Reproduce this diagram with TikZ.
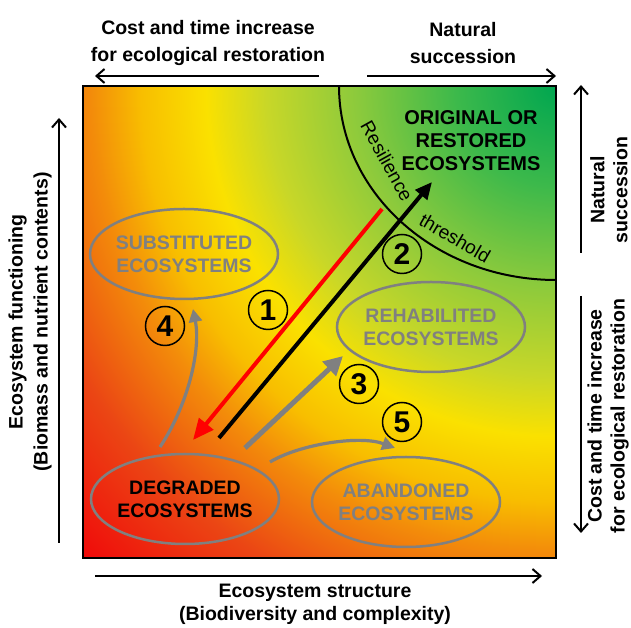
\documentclass[tikz,border=0pt]{standalone}
\usepackage{fontspec}
\setmainfont{Liberation Sans}
\usetikzlibrary{arrows.meta,shapes.geometric,positioning}

\definecolor{ecogray}{RGB}{128,128,128}
\definecolor{gA}{RGB}{0,166,80}
\definecolor{gB}{RGB}{60,185,75}
\definecolor{gC}{RGB}{140,202,60}
\definecolor{gD}{RGB}{200,215,40}
\definecolor{gE}{RGB}{250,225,0}
\definecolor{gF}{RGB}{248,190,0}
\definecolor{gG}{RGB}{243,140,10}
\definecolor{gH}{RGB}{235,70,20}
\definecolor{gI}{RGB}{240,10,10}
\pgfdeclareradialshading{ecofield}{\pgfpoint{0bp}{0bp}}{color(0bp)=(gA); color(3.74bp)=(gB); color(7.49bp)=(gC); color(10.85bp)=(gD); color(13.1bp)=(gE); color(15.53bp)=(gF); color(17.4bp)=(gG); color(20.77bp)=(gH); color(25bp)=(gI); color(50bp)=(gI)}

\tikzset{
  eco/.style={ellipse,draw=ecogray,line width=2.5pt,inner sep=0pt,inner xsep=-4pt,
    minimum width=188pt,minimum height=90pt,align=center,text=ecogray,
    font=\bfseries\fontsize{19.5}{23}\selectfont},
  num/.style={circle,draw,line width=1.5pt,minimum size=39pt,inner sep=0pt,
    font=\bfseries\fontsize{30}{30}\selectfont},
  axis/.style={line width=2pt,-{Straight Barb[length=8pt,width=14pt]}},
  lab/.style={align=center,font=\bfseries\fontsize{19.5}{23}\selectfont},
  arc label/.style={font=\fontsize{19}{23}\selectfont}
}

\begin{document}
\begin{tikzpicture}[x=1pt,y=1pt]
\useasboundingbox (0,0) rectangle (631,628);

% coloured field, green in the upper right corner
\begin{scope}
\clip (83,70) rectangle (556,542);
\shade[shading=ecofield] (-112,-126) rectangle (1224,1210);
\end{scope}
\draw[line width=2pt] (83,70) rectangle (556,542);

% resilience threshold
\draw[line width=2pt] (339,542) arc[start angle=180,end angle=270,x radius=217,y radius=194];
\node[arc label,rotate=-61] (res) at (387,467) {Resilience};
\node[arc label,rotate=-30] (thr) at (455,390) {threshold};

\node[font=\bfseries\fontsize{20}{23}\selectfont,align=center] (orig) at (471,487) {ORIGINAL OR\\RESTORED\\ECOSYSTEMS};

\node[eco] (sub) at (184,374) {SUBSTITUTED\\ECOSYSTEMS};
\node[eco] (reh) at (431,301) {REHABILITED\\ECOSYSTEMS};
\node[eco,text=black] (deg) at (185,129) {DEGRADED\\ECOSYSTEMS};
\node[eco] (aba) at (406,126) {ABANDONED\\ECOSYSTEMS};

\foreach \n/\x/\y in {1/268/318, 2/402/374, 3/359/244, 4/165/302, 5/402/206}
  \node[num] (n\n) at (\x,\y) {\n};

% trajectories
\coordinate (redA) at (382,419);
\coordinate (redB) at (193,188);
\coordinate (blkA) at (219,190);
\coordinate (blkB) at (432,446);
\coordinate (rehA) at (245,180);
\coordinate (rehB) at (343,272);
\coordinate (subA) at (160,181);
\coordinate (subB) at (193,319);
\coordinate (abaA) at (270,166);
\coordinate (abaB) at (395,180);

\draw[red,line width=4pt,-{Triangle[length=21pt,width=18pt]}] (redA) -- (redB);
\draw[black,line width=4pt,-{Triangle[length=17pt,width=15pt]}] (blkA) -- (blkB);
\draw[ecogray,line width=5pt,-{Triangle[length=19pt,width=19pt]}] (rehA) -- (rehB);
\draw[ecogray,line width=3.2pt,-{Triangle[length=13pt,width=13pt]}] (subA) .. controls (188,223) and (201,278) .. (subB);
\draw[ecogray,line width=3.2pt,-{Triangle[length=13pt,width=13pt]}] (abaA) .. controls (300,184) and (360,193) .. (abaB);

% axes
\coordinate (tl1) at (319,552);
\coordinate (tl2) at (95,552);
\coordinate (tr1) at (367,552);
\coordinate (tr2) at (556,552);
\coordinate (bx1) at (95,52);
\coordinate (bx2) at (542,52);
\coordinate (ly1) at (59,85);
\coordinate (ly2) at (59,510);
\coordinate (ru1) at (581,375);
\coordinate (ru2) at (581,543);
\coordinate (rl1) at (581,332);
\coordinate (rl2) at (581,95);
\draw[axis] (tl1) -- (tl2);
\draw[axis] (tr1) -- (tr2);
\draw[axis] (bx1) -- (bx2);
\draw[axis] (ly1) -- (ly2);
\draw[axis] (ru1) -- (ru2);
\draw[axis] (rl1) -- (rl2);

\node[lab,font=\bfseries\fontsize{19.5}{27}\selectfont] (costT) at (208,585) {Cost and time increase\\for ecological restoration};
\node[lab,font=\bfseries\fontsize{19.5}{27}\selectfont] (natT) at (463,585) {Natural\\succession};
\node[lab] (xlab) at (315,24) {Ecosystem structure\\(Biodiversity and complexity)};
\node[lab,font=\bfseries\fontsize{19.5}{25}\selectfont,rotate=90] (ylab) at (30,306) {Ecosystem functioning\\(Biomass and nutrient contents)};
\node[lab,rotate=90] (natR) at (609,438) {Natural\\succession};
\node[lab,rotate=90] (costR) at (608,212) {Cost and time increase\\for ecological restoration};
\end{tikzpicture}
\end{document}
